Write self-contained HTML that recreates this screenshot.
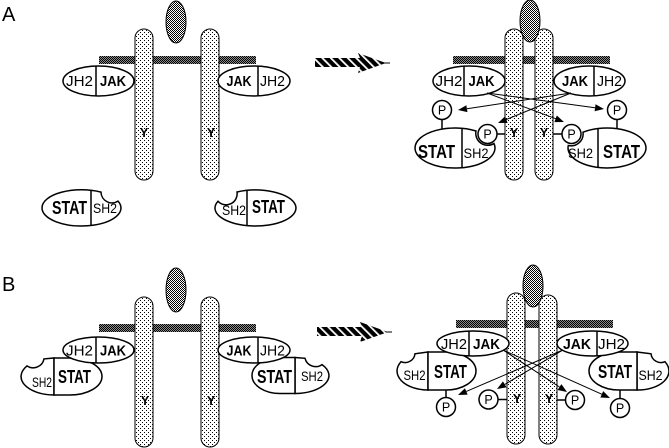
<!DOCTYPE html>
<html><head><meta charset="utf-8"><style>
html,body{margin:0;padding:0;background:#fff;}
svg{display:block;}
text{font-family:"Liberation Sans",sans-serif;fill:#000;}
</style></head><body>
<svg width="669" height="448" viewBox="0 0 669 448" xmlns="http://www.w3.org/2000/svg">
<defs>
<pattern id="rec" width="4" height="4" patternUnits="userSpaceOnUse"><rect width="4" height="4" fill="#fff"/><rect x="0" y="0" width="1" height="1" fill="#000"/><rect x="2" y="2" width="1" height="1" fill="#000"/></pattern>
<pattern id="lig" width="2" height="2" patternUnits="userSpaceOnUse"><rect width="2" height="2" fill="#fff"/><rect x="0" y="0" width="1" height="1" fill="#000"/><rect x="1" y="1" width="1" height="1" fill="#000"/></pattern>
<pattern id="mem" width="2" height="2" patternUnits="userSpaceOnUse"><rect width="2" height="2" fill="#8a8a8a"/><rect x="0" y="0" width="1" height="1" fill="#000"/><rect x="1" y="1" width="1" height="1" fill="#000"/></pattern>
<pattern id="stripe" width="6" height="6" patternUnits="userSpaceOnUse" patternTransform="rotate(-45)"><rect width="6" height="6" fill="#000"/><rect x="0" y="0" width="1.8" height="6" fill="#fff"/></pattern>
</defs>

<!-- ================= PANEL A ================= -->
<text x="2" y="21" font-size="20">A</text>

<!-- A left -->
<rect x="99" y="56" width="157" height="8" fill="url(#mem)"/>
<rect x="135" y="29" width="18" height="151" rx="9" fill="url(#rec)" stroke="#000" stroke-width="1"/>
<rect x="201" y="29" width="18" height="151" rx="9" fill="url(#rec)" stroke="#000" stroke-width="1"/>
<ellipse cx="176" cy="22" rx="10" ry="21" fill="url(#lig)" stroke="#000" stroke-width="1"/>

<ellipse cx="98.5" cy="81" rx="35.5" ry="15" fill="#fff" stroke="#000" stroke-width="1.5"/>
<line x1="96" y1="66" x2="96" y2="96" stroke="#000" stroke-width="1.5"/>
<text x="79.5" y="86" font-size="15" text-anchor="middle" textLength="27" lengthAdjust="spacingAndGlyphs">JH2</text>
<text x="113" y="86" font-size="15" font-weight="bold" text-anchor="middle" textLength="26" lengthAdjust="spacingAndGlyphs">JAK</text>

<ellipse cx="254" cy="81" rx="36" ry="15" fill="#fff" stroke="#000" stroke-width="1.5"/>
<line x1="258" y1="66" x2="258" y2="96" stroke="#000" stroke-width="1.5"/>
<text x="239" y="86" font-size="15" font-weight="bold" text-anchor="middle" textLength="25" lengthAdjust="spacingAndGlyphs">JAK</text>
<text x="272.5" y="86" font-size="15" text-anchor="middle" textLength="25" lengthAdjust="spacingAndGlyphs">JH2</text>

<text x="144" y="137" font-size="12.5" font-weight="bold" text-anchor="middle">Y</text>
<text x="211" y="137" font-size="12.5" font-weight="bold" text-anchor="middle">Y</text>

<path d="M42,208 A39.5,18 0 0 1 101,192.1 A11,11 0 0 0 118,201.1 A39.5,18 0 1 1 42,208 Z" fill="#fff" stroke="#000" stroke-width="1.5"/>
<line x1="91" y1="190.5" x2="91" y2="225.5" stroke="#000" stroke-width="1.5"/>
<text x="69.5" y="214" font-size="18" font-weight="bold" text-anchor="middle" textLength="35" lengthAdjust="spacingAndGlyphs">STAT</text>
<text x="105" y="213" font-size="14" text-anchor="middle" textLength="24" lengthAdjust="spacingAndGlyphs">SH2</text>

<path d="M237,192 A40.5,18 0 1 1 218,201.2 A11,11 0 0 0 237,192 Z" fill="#fff" stroke="#000" stroke-width="1.5"/>
<line x1="247" y1="190.4" x2="247" y2="225.6" stroke="#000" stroke-width="1.5"/>
<text x="268.5" y="213" font-size="18" font-weight="bold" text-anchor="middle" textLength="33" lengthAdjust="spacingAndGlyphs">STAT</text>
<text x="234" y="215" font-size="14" text-anchor="middle" textLength="24" lengthAdjust="spacingAndGlyphs">SH2</text>

<!-- A arrow -->
<polygon points="315,58 360,58 358,53 386,63 358,73 360,67 315,67" fill="url(#stripe)"/>
<line x1="385" y1="63" x2="390" y2="63" stroke="#000" stroke-width="1"/>

<!-- A right -->
<rect x="453" y="56" width="157" height="8" fill="url(#mem)"/>
<rect x="505" y="29" width="18" height="151" rx="9" fill="url(#rec)" stroke="#000" stroke-width="1"/>
<rect x="535" y="29" width="18" height="151" rx="9" fill="url(#rec)" stroke="#000" stroke-width="1"/>
<ellipse cx="530" cy="21" rx="10" ry="21" fill="url(#lig)" stroke="#000" stroke-width="1"/>

<ellipse cx="469" cy="81" rx="36" ry="15" fill="#fff" stroke="#000" stroke-width="1.5"/>
<line x1="464" y1="66" x2="464" y2="96" stroke="#000" stroke-width="1.5"/>
<text x="449" y="86" font-size="15" text-anchor="middle" textLength="27" lengthAdjust="spacingAndGlyphs">JH2</text>
<text x="481.5" y="86" font-size="15" font-weight="bold" text-anchor="middle" textLength="26" lengthAdjust="spacingAndGlyphs">JAK</text>

<ellipse cx="589.5" cy="81" rx="35.5" ry="15" fill="#fff" stroke="#000" stroke-width="1.5"/>
<line x1="594" y1="66" x2="594" y2="96" stroke="#000" stroke-width="1.5"/>
<text x="575" y="86" font-size="15" font-weight="bold" text-anchor="middle" textLength="26" lengthAdjust="spacingAndGlyphs">JAK</text>
<text x="609.5" y="86" font-size="15" text-anchor="middle" textLength="25" lengthAdjust="spacingAndGlyphs">JH2</text>

<path d="M415,148 A40,20 0 0 1 476,130.98 A12,12 0 0 0 494,143.56 A40,20 0 1 1 415,148 Z" fill="#fff" stroke="#000" stroke-width="1.5"/>
<line x1="462" y1="128.3" x2="462" y2="167.7" stroke="#000" stroke-width="1.5"/>
<text x="436.5" y="158" font-size="18" font-weight="bold" text-anchor="middle" textLength="37" lengthAdjust="spacingAndGlyphs">STAT</text>
<text x="476" y="158" font-size="14" text-anchor="middle" textLength="25" lengthAdjust="spacingAndGlyphs">SH2</text>

<path d="M583,132.2 A39,20 0 1 1 568.3,145.5 A12,12 0 0 0 583,132.2 Z" fill="#fff" stroke="#000" stroke-width="1.5"/>
<line x1="598" y1="128.5" x2="598" y2="167.5" stroke="#000" stroke-width="1.5"/>
<text x="621.5" y="158" font-size="18" font-weight="bold" text-anchor="middle" textLength="37" lengthAdjust="spacingAndGlyphs">STAT</text>
<text x="580.5" y="158" font-size="14" text-anchor="middle" textLength="25" lengthAdjust="spacingAndGlyphs">SH2</text>

<!-- A right P's -->
<line x1="442" y1="119" x2="442" y2="129" stroke="#000" stroke-width="1.5"/>
<circle cx="442" cy="110" r="9.5" fill="#fff" stroke="#000" stroke-width="1.5"/>
<text x="442" y="114.5" font-size="12.5" text-anchor="middle">P</text>
<line x1="617" y1="119" x2="617" y2="129" stroke="#000" stroke-width="1.5"/>
<circle cx="617" cy="110" r="9.5" fill="#fff" stroke="#000" stroke-width="1.5"/>
<text x="617" y="114.5" font-size="12.5" text-anchor="middle">P</text>
<line x1="497" y1="134" x2="505" y2="134" stroke="#000" stroke-width="1.5"/>
<circle cx="487.5" cy="134" r="9.5" fill="#fff" stroke="#000" stroke-width="1.5"/>
<text x="487.5" y="138.5" font-size="12.5" text-anchor="middle">P</text>
<line x1="553" y1="134" x2="562" y2="134" stroke="#000" stroke-width="1.5"/>
<circle cx="571.5" cy="134" r="9.5" fill="#fff" stroke="#000" stroke-width="1.5"/>
<text x="571.5" y="138.5" font-size="12.5" text-anchor="middle">P</text>
<text x="514" y="137" font-size="12.5" font-weight="bold" text-anchor="middle">Y</text>
<text x="544" y="137" font-size="12.5" font-weight="bold" text-anchor="middle">Y</text>

<!-- A right arrows -->
<g stroke="#000" stroke-width="1" fill="none">
<line x1="487" y1="93" x2="595" y2="107.8"/>
<line x1="571" y1="93" x2="467" y2="108.7"/>
<line x1="487" y1="93" x2="556" y2="118.8"/>
<line x1="571" y1="93" x2="506" y2="119.6"/>
</g>
<g fill="#000">
<polygon points="604,109 594.61,111.25 595.55,104.31"/>
<polygon points="458,110 466.38,105.20 467.42,112.12"/>
<polygon points="564,122 554.35,122.11 556.81,115.55"/>
<polygon points="498,123 505.00,116.34 507.66,122.82"/>
</g>

<!-- ================= PANEL B ================= -->
<text x="2" y="291" font-size="20">B</text>

<!-- B left -->
<rect x="99" y="324" width="157" height="8" fill="url(#mem)"/>
<rect x="135" y="297" width="18" height="150" rx="9" fill="url(#rec)" stroke="#000" stroke-width="1"/>
<rect x="201" y="297" width="18" height="150" rx="9" fill="url(#rec)" stroke="#000" stroke-width="1"/>
<ellipse cx="176" cy="290" rx="10" ry="22" fill="url(#lig)" stroke="#000" stroke-width="1"/>

<!-- B left STATs (under JAK) -->
<path d="M54,395 A33,18.5 0 0 1 27,365.9 A11,11 0 0 0 44,358.9 L54,358 Z" fill="#fff" stroke="#000" stroke-width="1.5"/>
<path d="M54,358 H70 A32,18.5 0 0 1 70,395 H54 Z" fill="#fff" stroke="#000" stroke-width="1.5"/>
<text x="42" y="387" font-size="14" text-anchor="middle" textLength="20" lengthAdjust="spacingAndGlyphs">SH2</text>
<text x="74.5" y="383" font-size="18" font-weight="bold" text-anchor="middle" textLength="33" lengthAdjust="spacingAndGlyphs">STAT</text>

<path d="M295,357.5 L305,358.3 A11,11 0 0 0 322,364.6 A34,18 0 0 1 295,393.5 Z" fill="#fff" stroke="#000" stroke-width="1.5"/>
<path d="M295,357.5 V393.5 H280 A28,18 0 0 1 280,357.5 Z" fill="#fff" stroke="#000" stroke-width="1.5"/>
<text x="274.5" y="383" font-size="18" font-weight="bold" text-anchor="middle" textLength="35" lengthAdjust="spacingAndGlyphs">STAT</text>
<text x="312" y="381" font-size="14" text-anchor="middle" textLength="22" lengthAdjust="spacingAndGlyphs">SH2</text>

<ellipse cx="98.5" cy="350" rx="35.5" ry="13" fill="#fff" stroke="#000" stroke-width="1.5"/>
<line x1="96" y1="337" x2="96" y2="363" stroke="#000" stroke-width="1.5"/>
<text x="79.5" y="355.5" font-size="15" text-anchor="middle" textLength="27" lengthAdjust="spacingAndGlyphs">JH2</text>
<text x="113" y="355.5" font-size="15" font-weight="bold" text-anchor="middle" textLength="26" lengthAdjust="spacingAndGlyphs">JAK</text>

<ellipse cx="254" cy="350" rx="36" ry="13" fill="#fff" stroke="#000" stroke-width="1.5"/>
<line x1="258" y1="337" x2="258" y2="363" stroke="#000" stroke-width="1.5"/>
<text x="239" y="355.5" font-size="15" font-weight="bold" text-anchor="middle" textLength="25" lengthAdjust="spacingAndGlyphs">JAK</text>
<text x="272.5" y="355.5" font-size="15" text-anchor="middle" textLength="25" lengthAdjust="spacingAndGlyphs">JH2</text>

<text x="145" y="405" font-size="12.5" font-weight="bold" text-anchor="middle">Y</text>
<text x="211" y="405" font-size="12.5" font-weight="bold" text-anchor="middle">Y</text>

<!-- B arrow -->
<polygon points="317,327 362,327 360,322 388,332 360,342 362,336 317,336" fill="url(#stripe)"/>
<line x1="387" y1="332" x2="392" y2="332" stroke="#000" stroke-width="1"/>

<!-- B right -->
<rect x="456" y="320" width="157" height="8" fill="url(#mem)"/>
<rect x="507" y="293" width="18" height="151" rx="9" fill="url(#rec)" stroke="#000" stroke-width="1"/>
<rect x="539" y="295" width="18" height="149" rx="9" fill="url(#rec)" stroke="#000" stroke-width="1"/>
<ellipse cx="533" cy="286" rx="10" ry="21" fill="url(#lig)" stroke="#000" stroke-width="1"/>

<path d="M428,390 A31,19 0 0 1 401,361.7 A10,10 0 0 0 415,353.8 L428,352 Z" fill="#fff" stroke="#000" stroke-width="1.5"/>
<path d="M428,352 H446 A30,19 0 0 1 446,390 H428 Z" fill="#fff" stroke="#000" stroke-width="1.5"/>
<text x="450.5" y="378" font-size="18" font-weight="bold" text-anchor="middle" textLength="33" lengthAdjust="spacingAndGlyphs">STAT</text>
<text x="414.5" y="380" font-size="14" text-anchor="middle" textLength="22" lengthAdjust="spacingAndGlyphs">SH2</text>

<path d="M637,352 L651,353.8 A10,10 0 0 0 665,361.7 A31,19 0 0 1 637,390 Z" fill="#fff" stroke="#000" stroke-width="1.5"/>
<path d="M637,352 V390 H619 A30,19 0 0 1 619,352 Z" fill="#fff" stroke="#000" stroke-width="1.5"/>
<text x="615" y="378" font-size="18" font-weight="bold" text-anchor="middle" textLength="34" lengthAdjust="spacingAndGlyphs">STAT</text>
<text x="650.5" y="380" font-size="14" text-anchor="middle" textLength="24" lengthAdjust="spacingAndGlyphs">SH2</text>

<ellipse cx="473" cy="343.5" rx="36" ry="12.5" fill="#fff" stroke="#000" stroke-width="1.5"/>
<line x1="469" y1="331" x2="469" y2="356" stroke="#000" stroke-width="1.5"/>
<text x="454" y="349" font-size="15" text-anchor="middle" textLength="26" lengthAdjust="spacingAndGlyphs">JH2</text>
<text x="486.5" y="349" font-size="15" font-weight="bold" text-anchor="middle" textLength="27" lengthAdjust="spacingAndGlyphs">JAK</text>

<ellipse cx="592.5" cy="343.5" rx="35.5" ry="12.5" fill="#fff" stroke="#000" stroke-width="1.5"/>
<line x1="597" y1="331" x2="597" y2="356" stroke="#000" stroke-width="1.5"/>
<text x="577" y="349" font-size="15" font-weight="bold" text-anchor="middle" textLength="28" lengthAdjust="spacingAndGlyphs">JAK</text>
<text x="611.5" y="349" font-size="15" text-anchor="middle" textLength="27" lengthAdjust="spacingAndGlyphs">JH2</text>

<!-- B right P's -->
<line x1="446" y1="390" x2="446" y2="397.5" stroke="#000" stroke-width="1.5"/>
<circle cx="446" cy="407" r="9.5" fill="#fff" stroke="#000" stroke-width="1.5"/>
<text x="446" y="411.5" font-size="12.5" text-anchor="middle">P</text>
<line x1="498" y1="399.5" x2="507" y2="399.5" stroke="#000" stroke-width="1.5"/>
<circle cx="488.5" cy="399.5" r="9.5" fill="#fff" stroke="#000" stroke-width="1.5"/>
<text x="488.5" y="404" font-size="12.5" text-anchor="middle">P</text>
<line x1="557" y1="400" x2="565.5" y2="400" stroke="#000" stroke-width="1.5"/>
<circle cx="575" cy="400" r="9.5" fill="#fff" stroke="#000" stroke-width="1.5"/>
<text x="575" y="404.5" font-size="12.5" text-anchor="middle">P</text>
<line x1="620" y1="390" x2="620" y2="398.5" stroke="#000" stroke-width="1.5"/>
<circle cx="620" cy="408" r="9.5" fill="#fff" stroke="#000" stroke-width="1.5"/>
<text x="620" y="412.5" font-size="12.5" text-anchor="middle">P</text>
<text x="517" y="403" font-size="12.5" font-weight="bold" text-anchor="middle">Y</text>
<text x="549" y="403" font-size="12.5" font-weight="bold" text-anchor="middle">Y</text>

<!-- B right arrows -->
<g stroke="#000" stroke-width="1" fill="none">
<line x1="503" y1="350" x2="602" y2="394.3"/>
<line x1="503" y1="350" x2="559.5" y2="387"/>
<line x1="563" y1="350" x2="504.8" y2="384.4"/>
<line x1="563" y1="350" x2="466.3" y2="391.4"/>
</g>
<g fill="#000">
<polygon points="610,398 600.36,397.51 603.22,391.13"/>
<polygon points="567,392 557.56,389.99 561.40,384.13"/>
<polygon points="497,389 502.97,381.41 506.53,387.43"/>
<polygon points="458,395 464.89,388.23 467.65,394.67"/>
</g>
</svg>
</body></html>
